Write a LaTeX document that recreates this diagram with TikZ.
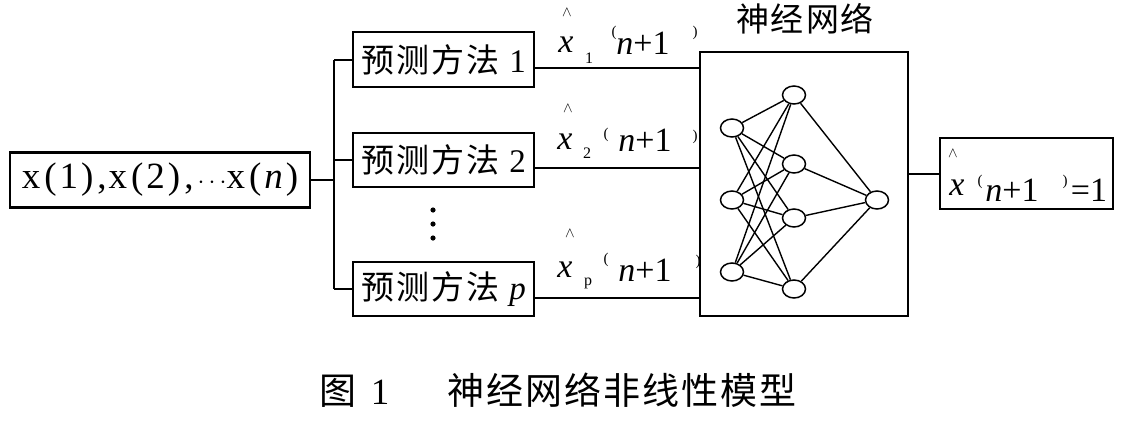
\documentclass[tikz,border=0pt]{standalone}
\usepackage{fontspec}
\setmainfont{Liberation Serif}
\newfontfamily\cjk{Noto Sans CJK SC}
\usetikzlibrary{calc,shapes.geometric}
\newcommand\gp{\hspace{2pt}}
\newcommand\fs[1]{\fontsize{#1}{#1}\selectfont}
\tikzset{
  box/.style={draw, line width=2.4pt, inner sep=0pt},
  conn/.style={line width=2pt},
  neuron/.style={draw, ellipse, line width=1.5pt, minimum width=23pt, minimum height=18pt, inner sep=0pt},
  edge/.style={line width=1.4pt},
  txt/.style={inner sep=0pt, outer sep=0pt},
  hat/.style={txt, font=\fs{14}},
  var/.style={txt, font=\fs{34}\itshape},
  sub/.style={txt, font=\fs{16}},
  par/.style={txt, font=\fs{15}},
  np1/.style={txt, font=\fs{34}},
}
\newcommand\mth[1]{{\cjk 预\gp 测\gp 方\gp 法}\hspace{10pt}#1}
\begin{document}
\begin{tikzpicture}[x=1pt,y=-1pt]
\useasboundingbox (0,0) rectangle (1124,421);
% input box
\node[box, minimum width=300pt, minimum height=55pt, font=\fs{37}] (in) at (160,180)
  {x\hspace{4pt}(\hspace{3pt}1\hspace{3pt})\hspace{4pt},\hspace{2pt}x\hspace{4pt}(\hspace{3pt}2\hspace{3pt})\hspace{4pt},\hspace{4pt}$\cdots$x\hspace{4pt}(\hspace{3pt}\textit{n}\hspace{3pt})};
% method boxes
\node[box, minimum width=181pt, minimum height=55pt, font=\fs{33}] (m1) at (443.5,59.5) {\mth{1}};
\node[box, minimum width=181pt, minimum height=54pt, font=\fs{33}] (m2) at (443.5,160) {\mth{2}};
\node[box, minimum width=181pt, minimum height=54pt, font=\fs{33}] (mp) at (443.5,289) {\mth{\textit{p}}};
% vertical dots
\fill (433,210) circle (2.6pt);
\fill (433,224) circle (2.6pt);
\fill (433,238) circle (2.6pt);
% bracket
\coordinate (bc) at (334,180);
\draw[conn] (in.east) -- (bc);
\draw[conn] (m1.west -| bc) -- (mp.west -| bc);
\draw[conn] (m1.west -| bc) -- (m1.west);
\draw[conn] (m2.west -| bc) -- (m2.west);
\draw[conn] (mp.west -| bc) -- (mp.west);
% neural network box
\node[box, minimum width=208pt, minimum height=264pt] (nn) at (804,184) {};
\node[txt, font=\fs{33}\cjk] (nnt) at (805,19) {神\gp 经\gp 网\gp 络};
% output lines
\draw[conn] ([yshift=-8.5pt]m1.east) -- ([yshift=-8.5pt]m1.east -| nn.west);
\draw[conn] ([yshift=-8pt]m2.east) -- ([yshift=-8pt]m2.east -| nn.west);
\draw[conn] ([yshift=-9pt]mp.east) -- ([yshift=-9pt]mp.east -| nn.west);
% labels 1
\node[hat] (h1) at (567,12) {$\wedge$};
\node[var] (x1) at (566,45) {x};
\node[sub] (s1) at (589,58) {1};
\node[par] (lp1) at (614,33) {(};
\node[np1] (n1) at (643,43) {\textit{n}+1};
\node[par] (rp1) at (695,33) {)};
% labels 2
\node[hat] (h2) at (568,108) {$\wedge$};
\node[var] (x2) at (565,142) {x};
\node[sub] (s2) at (587,153) {2};
\node[par] (lp2) at (606,135) {(};
\node[np1] (n2) at (645,140) {\textit{n}+1};
\node[par] (rp2) at (695,137) {)};
% labels p
\node[hat] (hp) at (570,233) {$\wedge$};
\node[var] (xp) at (565,270) {x};
\node[sub] (sp) at (588,283) {p};
\node[par] (lpp) at (606,260) {(};
\node[np1] (np) at (645,270) {\textit{n}+1};
\node[par] (rpp) at (698,262) {)};
% neurons
\node[neuron] (i1) at (732,128) {};
\node[neuron] (i2) at (732,200) {};
\node[neuron] (i3) at (732,272) {};
\node[neuron] (h1n) at (794,95) {};
\node[neuron] (h2n) at (794,164) {};
\node[neuron] (h3n) at (794,218) {};
\node[neuron] (h4n) at (794,289) {};
\node[neuron] (o1) at (877,200) {};
\foreach \a in {i1,i2,i3}
  \foreach \b in {h1n,h2n,h3n,h4n}
    \draw[edge] (\a) -- (\b);
\foreach \b in {h1n,h2n,h3n,h4n}
  \draw[edge] (\b) -- (o1);
% output box
\node[box, minimum width=173pt, minimum height=71pt] (out) at (1026.5,173.5) {};
\draw[conn] (out.west -| nn.east) -- (out.west);
\node[hat] (ho) at (953,153) {$\wedge$};
\node[var] (xo) at (957,188) {x};
\node[par] (lpo) at (980,182) {(};
\node[np1] (no) at (1012,190) {\textit{n}+1};
\node[par] (rpo) at (1065,182) {)};
\node[np1] (eqo) at (1089,190) {=1};
% caption
\node[txt, font=\fs{37}] (cap) at (558,390)
  {{\cjk 图}\hspace{14pt}1\hspace{58pt}{\cjk 神\gp 经\gp 网\gp 络\gp 非\gp 线\gp 性\gp 模\gp 型}};
\end{tikzpicture}
\end{document}
